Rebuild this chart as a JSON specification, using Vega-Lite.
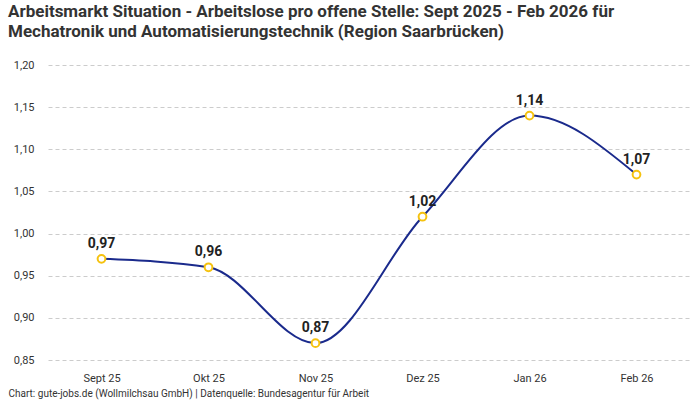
{
  "$schema": "https://vega.github.io/schema/vega-lite/v6.json",
  "width": 700,
  "height": 400,
  "autosize": {"type": "fit", "contains": "padding"},
  "padding": {"left": 8, "top": 3, "right": 10, "bottom": 2},
  "background": "white",
  "title": {
    "text": ["Arbeitsmarkt Situation - Arbeitslose pro offene Stelle: Sept 2025 - Feb 2026 für", "Mechatronik und Automatisierungstechnik (Region Saarbrücken)"],
    "anchor": "start",
    "frame": "bounds",
    "font": "Roboto",
    "fontSize": 17,
    "fontWeight": "bold",
    "color": "#333333",
    "lineHeight": 20,
    "offset": 18
  },
  "config": {
    "locale": {"number": {"decimal": ",", "thousands": ".", "grouping": [3], "currency": ["", " €"]}},
    "font": "Roboto",
    "view": {"stroke": null}
  },
  "data": {
    "values": [
      {"monat": "Sept 25", "wert": 0.97},
      {"monat": "Okt 25", "wert": 0.96},
      {"monat": "Nov 25", "wert": 0.87},
      {"monat": "Dez 25", "wert": 1.02},
      {"monat": "Jan 26", "wert": 1.14},
      {"monat": "Feb 26", "wert": 1.07}
    ]
  },
  "encoding": {
    "x": {
      "field": "monat",
      "type": "ordinal",
      "sort": null,
      "scale": {"type": "point", "padding": 0.5},
      "axis": {
        "title": "Chart: gute-jobs.de (Wollmilchsau GmbH) | Datenquelle: Bundesagentur für Arbeit",
        "titleFontSize": 10,
        "titleFontWeight": "normal",
        "titleColor": "#333333",
        "titleAnchor": "start",
        "titleAlign": "left",
        "titleX": -40,
        "titlePadding": 5,
        "labelAngle": 0,
        "labelFontSize": 11,
        "labelColor": "#333333",
        "labelPadding": 12,
        "domain": false,
        "ticks": false,
        "grid": false
      }
    },
    "y": {
      "field": "wert",
      "type": "quantitative",
      "scale": {"domain": [0.85, 1.2], "nice": false, "zero": false},
      "axis": {
        "title": null,
        "values": [0.85, 0.9, 0.95, 1.0, 1.05, 1.1, 1.15, 1.2],
        "format": ".2f",
        "labelFontSize": 11,
        "labelColor": "#333333",
        "labelPadding": 14,
        "domain": false,
        "ticks": false,
        "gridColor": "#cccccc",
        "gridDash": [4, 3]
      }
    }
  },
  "layer": [
    {
      "mark": {"type": "line", "interpolate": "monotone", "color": "#1a2a8c", "strokeWidth": 2}
    },
    {
      "mark": {"type": "point", "filled": true, "fill": "white", "stroke": "#f5c20f", "strokeWidth": 2, "size": 60, "opacity": 1}
    },
    {
      "mark": {"type": "text", "dy": -15, "fontSize": 14, "fontWeight": "bold", "color": "#222222"},
      "encoding": {"text": {"field": "wert", "type": "quantitative", "format": ".2f"}}
    }
  ]
}
